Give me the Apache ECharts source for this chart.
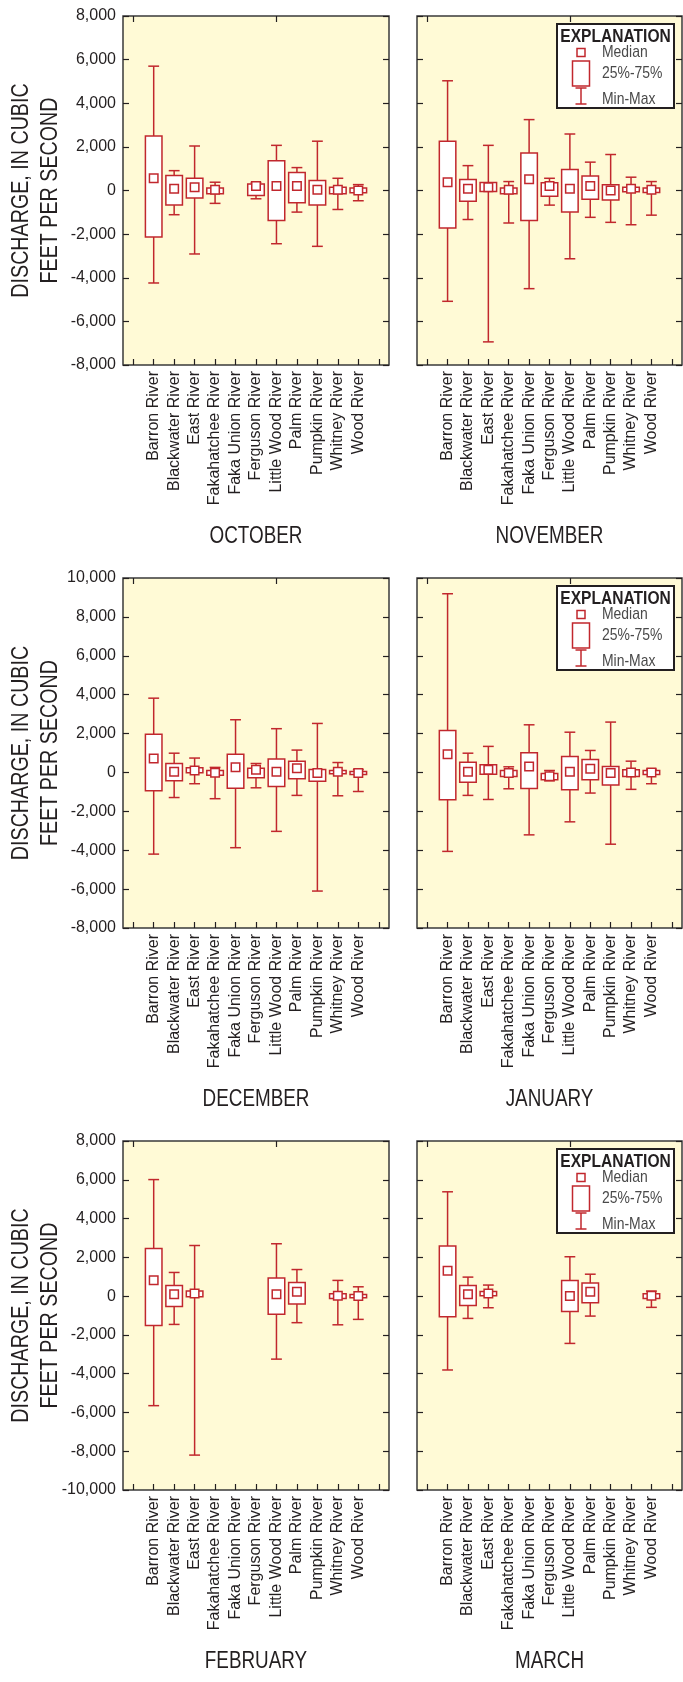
<!DOCTYPE html>
<html><head><meta charset="utf-8">
<script src="https://cdn.jsdelivr.net/npm/echarts@6/dist/echarts.min.js"></script>
<style>html,body{margin:0;padding:0;background:#fff}#c{width:683px;height:1682px}</style>
</head><body><div id="c"></div>
<script>
const rivers = ['Barron River','Blackwater River','East River','Fakahatchee River','Faka Union River',
  'Ferguson River','Little Wood River','Palm River','Pumpkin River','Whitney River','Wood River'];
const months = ['OCTOBER','NOVEMBER','DECEMBER','JANUARY','FEBRUARY','MARCH'];
// each entry per river: [min, q1, median, q3, max]; null = no data
const october = [
  [-4240,-2130,560,2500,5700],[-1110,-670,80,690,910],[-2910,-340,150,560,2040],[-590,-150,30,110,380],
  null,[-380,-230,210,300,370],[-2440,-1370,210,1360,2070],[-990,-560,210,820,1050],
  [-2560,-670,30,460,2260],[-870,-150,30,150,560],[-470,-100,0,120,270]];
const november = [
  [-5080,-1720,380,2260,5030],[-1330,-490,80,500,1140],[-6940,-50,150,370,2070],[-1490,-150,30,120,410],
  [-4500,-1370,520,1720,3250],[-670,-260,210,350,560],[-3130,-990,80,960,2590],[-1230,-400,210,660,1300],
  [-1460,-430,0,260,1650],[-1570,-60,80,150,610],[-1130,-90,30,110,410]];
const december = [
  [-4200,-940,720,1970,3820],[-1290,-430,30,460,990],[-580,-20,100,240,740],[-1350,-140,-20,100,260],
  [-3870,-810,270,940,2710],[-790,-270,140,220,460],[-3030,-720,30,690,2250],[-1180,-330,210,580,1150],
  [-6100,-450,-30,150,2520],[-1200,-70,30,100,510],[-980,-100,-30,50,150]];
const january = [
  [-4060,-1410,930,2160,9190],[-1180,-510,30,530,990],[-1390,-90,140,390,1340],[-840,-210,-30,100,290],
  [-3210,-820,310,1010,2450],[-430,-380,-190,-50,100],[-2540,-890,30,820,2070],[-1060,-380,190,670,1130],
  [-3690,-650,-30,310,2590],[-870,-210,0,140,580],[-580,-100,0,100,170]];
const february = [
  [-5650,-1510,820,2460,6010],[-1460,-530,90,550,1220],[-8200,-30,140,270,2610],null,
  null,null,[-3250,-930,90,930,2700],[-1370,-410,220,700,1370],
  null,[-1480,-120,20,120,810],[-1200,-80,0,80,480]];
const march = [
  [-3810,-1070,1310,2580,5380],[-1150,-480,90,550,980],[-600,20,140,240,570],null,
  null,null,[-2440,-790,0,810,2030],[-1030,-340,220,670,1130],
  null,null,[-580,-120,20,120,260]];
const monthData = [october, november, december, january, february, march];
const yMin = [-8000,-8000,-8000,-8000,-10000,-10000];
const yMax = [8000,8000,10000,10000,8000,8000];
const yStep = 2000;
const yTitle = ['DISCHARGE, IN CUBIC','FEET PER SECOND'];
const legendLabels = ['EXPLANATION','Median','25%-75%','Min-Max'];

const RED = '#c1272d', INK = '#231f20', BG = '#fffad6';
const SANS = "'Liberation Sans', Arial, sans-serif";
const NARROW_X = 0.82; // horizontal squeeze to imitate a condensed face
const colLeft = [123, 417], colW = [266, 265];
const rowTop = [16, 578, 1141], rowH = [349, 350, 349];
const cats = [''].concat(rivers, [' ']);

function renderBox(params, api) {
  const x = api.value(0);
  const pMin = api.coord([x, api.value(1)]);
  const pQ1 = api.coord([x, api.value(2)]);
  const pMed = api.coord([x, api.value(3)]);
  const pQ3 = api.coord([x, api.value(4)]);
  const pMax = api.coord([x, api.value(5)]);
  const cw = api.size([1, 0])[0];
  const bw = cw * 0.81, cap = cw * 0.53, ms = 8.5;
  const cx = pMed[0];
  const st = {stroke: RED, lineWidth: 1.5, fill: null};
  return {type: 'group', children: [
    {type: 'line', shape: {x1: cx, y1: pMax[1], x2: cx, y2: pMin[1]}, style: st},
    {type: 'line', shape: {x1: cx - cap/2, y1: pMax[1], x2: cx + cap/2, y2: pMax[1]}, style: st},
    {type: 'line', shape: {x1: cx - cap/2, y1: pMin[1], x2: cx + cap/2, y2: pMin[1]}, style: st},
    {type: 'rect', shape: {x: cx - bw/2, y: pQ3[1], width: bw, height: pQ1[1] - pQ3[1]},
      style: {fill: '#fff', stroke: RED, lineWidth: 1.5}},
    {type: 'rect', shape: {x: cx - ms/2, y: pMed[1] - ms/2, width: ms, height: ms},
      style: {fill: '#fff', stroke: RED, lineWidth: 1.5}}
  ]};
}

function txt(x, y, text, font, opts) {
  return Object.assign({type: 'text', x: x, y: y, scaleX: NARROW_X,
    style: {text: text, font: font, fill: INK, textAlign: 'center', textVerticalAlign: 'middle'}}, opts || {});
}

const grid = [], xAxis = [], yAxis = [], series = [], graphic = [];
const tickStyle = {show: true, inside: true, length: 6, alignWithLabel: true, lineStyle: {color: INK, width: 1.2}};
for (let m = 0; m < 6; m++) {
  const r = Math.floor(m / 2), c = m % 2;
  grid.push({left: colLeft[c], top: rowTop[r], width: colW[c], height: rowH[r], show: true,
    backgroundColor: BG, borderColor: '#3a3a3a', borderWidth: 1.5, containLabel: false});
  xAxis.push({type: 'category', gridIndex: m, data: cats, position: 'bottom',
    axisLine: {show: false, onZero: false}, axisTick: tickStyle, splitLine: {show: false},
    axisLabel: {rotate: 90, interval: 0, fontSize: 16, margin: 6, color: INK, fontFamily: SANS}});
  xAxis.push({type: 'category', gridIndex: m, data: cats, position: 'top',
    axisLine: {show: false, onZero: false}, axisTick: tickStyle, axisLabel: {show: false}});
  const yBase = {type: 'value', gridIndex: m, min: yMin[m], max: yMax[m], interval: yStep,
    axisLine: {show: false, onZero: false}, splitLine: {show: false},
    axisTick: {show: true, inside: true, length: 6, lineStyle: {color: INK, width: 1.2}}};
  yAxis.push(Object.assign({}, yBase, {position: 'left',
    axisLabel: {show: c === 0, margin: 7, fontSize: 16, color: INK, fontFamily: SANS,
      formatter: v => v.toLocaleString('en-US')}}));
  yAxis.push(Object.assign({}, yBase, {position: 'right', axisLabel: {show: false}}));
  const data = [];
  monthData[m].forEach((d, i) => { if (d) data.push([i + 1].concat(d)); });
  series.push({type: 'custom', xAxisIndex: 2*m, yAxisIndex: 2*m, renderItem: renderBox,
    encode: {x: 0, y: [1, 2, 3, 4, 5]}, data: data, silent: true});
  graphic.push(txt(colLeft[c] + colW[c]/2, rowTop[r] + rowH[r] + 172, months[m], '23px ' + SANS));
}
for (let r = 0; r < 3; r++) {
  const cy = rowTop[r] + rowH[r]/2;
  [21, 50].forEach((x, k) => graphic.push(txt(x, cy, yTitle[k], '24px ' + SANS, {rotation: Math.PI/2})));
  const T = rowTop[r];
  const LX = 557;
  const lab = (y, s) => ({type: 'text', x: LX + 45, y: T + y, scaleX: NARROW_X,
    style: {text: s, font: '17px ' + SANS, fill: '#4a4a4a', textAlign: 'left', textVerticalAlign: 'middle'}});
  graphic.push({type: 'group', children: [
    {type: 'rect', shape: {x: LX, y: T + 8, width: 117, height: 84}, style: {fill: '#fff', stroke: INK, lineWidth: 2}},
    txt(LX + 58.5, T + 20.5, legendLabels[0], 'bold 19px ' + SANS),
    {type: 'rect', shape: {x: LX + 20, y: T + 32.5, width: 8, height: 8}, style: {fill: '#fff', stroke: RED, lineWidth: 1.5}},
    {type: 'rect', shape: {x: LX + 15.5, y: T + 45, width: 17, height: 25}, style: {fill: '#fff', stroke: RED, lineWidth: 1.5}},
    {type: 'line', shape: {x1: LX + 24, y1: T + 72, x2: LX + 24, y2: T + 88}, style: {stroke: RED, lineWidth: 1.5}},
    {type: 'line', shape: {x1: LX + 18.5, y1: T + 72, x2: LX + 29.5, y2: T + 72}, style: {stroke: RED, lineWidth: 1.5}},
    {type: 'line', shape: {x1: LX + 18.5, y1: T + 88, x2: LX + 29.5, y2: T + 88}, style: {stroke: RED, lineWidth: 1.5}},
    lab(36.5, legendLabels[1]), lab(57.5, legendLabels[2]), lab(83, legendLabels[3])
  ]});
}
const chart = echarts.init(document.getElementById('c'), null, {renderer: 'canvas'});
chart.setOption({animation: false, backgroundColor: '#fff', grid, xAxis, yAxis, series, graphic});
</script></body></html>
